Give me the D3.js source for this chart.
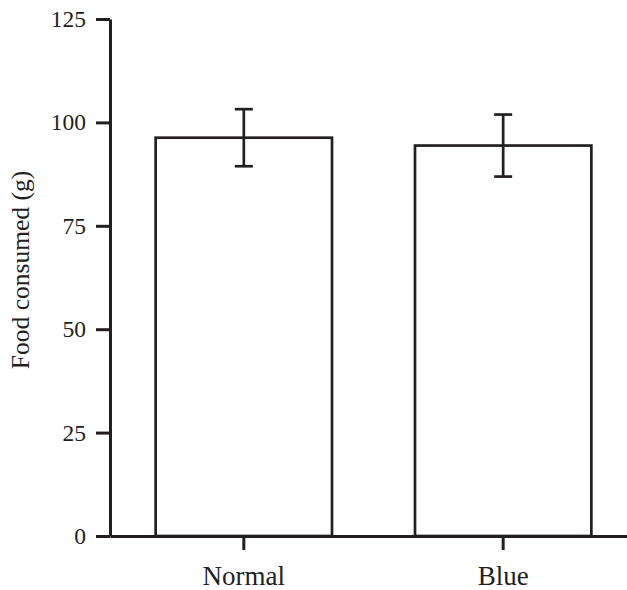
<!DOCTYPE html>
<html>
<head>
<meta charset="utf-8">
<script src="https://cdn.jsdelivr.net/npm/d3@7"></script>
<style>
	body { margin: 0; background: #fff; }
	svg text { font-family: "Liberation Serif", "Times New Roman", serif; fill: #231f20; }
</style>
</head>
<body>
<div id="main-view"></div>
<script>
var groups = ["Normal", "Blue"];
var means = [96.3, 94.4];
var errors = [6.9, 7.5];
var yTicks = [0, 25, 50, 75, 100, 125];
var yLabel = "Food consumed (g)";

var width = 627, height = 590;
var ink = "#231f20";

var svg = d3.select("#main-view")
	.append("svg")
	.attr("width", width)
	.attr("height", height);

var x = d3.scaleBand()
	.domain(groups)
	.range([110, 637])
	.paddingInner(0.32)
	.paddingOuter(0.176);

var y = d3.scaleLinear()
	.domain([0, 125])
	.range([536, 19]);

var data = groups.map(function(g, i) {
	return { key: g, mean: means[i], err: errors[i] };
});

// bars
svg.selectAll("rect.bar")
	.data(data)
	.enter()
	.append("rect")
	.attr("class", "bar")
	.attr("x", function(d) { return x(d.key) })
	.attr("y", function(d) { return y(d.mean) })
	.attr("width", x.bandwidth())
	.attr("height", function(d) { return y(0) - y(d.mean) })
	.attr("fill", "#fff")
	.attr("stroke", ink)
	.attr("stroke-width", 2.7);

// error bars
var capHalf = 9;
var err = svg.selectAll("g.err")
	.data(data)
	.enter()
	.append("g")
	.attr("class", "err")
	.attr("stroke", ink)
	.attr("stroke-width", 2.7);

err.append("line")
	.attr("x1", function(d) { return x(d.key) + x.bandwidth() / 2 })
	.attr("x2", function(d) { return x(d.key) + x.bandwidth() / 2 })
	.attr("y1", function(d) { return y(d.mean + d.err) })
	.attr("y2", function(d) { return y(d.mean - d.err) });

[1, -1].forEach(function(s) {
	err.append("line")
		.attr("x1", function(d) { return x(d.key) + x.bandwidth() / 2 - capHalf })
		.attr("x2", function(d) { return x(d.key) + x.bandwidth() / 2 + capHalf })
		.attr("y1", function(d) { return y(d.mean + s * d.err) })
		.attr("y2", function(d) { return y(d.mean + s * d.err) });
});

// axes
var yAxis = svg.append("g")
	.attr("transform", "translate(110,0)")
	.call(d3.axisLeft(y).tickValues(yTicks).tickSizeInner(14).tickSizeOuter(0).tickPadding(10));

var xAxis = svg.append("g")
	.attr("transform", "translate(0,536)")
	.call(d3.axisBottom(x).tickSizeInner(14).tickSizeOuter(0).tickPadding(16));

[yAxis, xAxis].forEach(function(a) {
	a.selectAll("path, line").attr("stroke", ink).attr("stroke-width", 3);
	a.selectAll("text").attr("fill", ink).style("font-family", "Liberation Serif");
});
yAxis.selectAll("text").style("font-size", "23.5px");
xAxis.selectAll("text").style("font-size", "27px");

svg.append("text")
	.attr("transform", "translate(29,270) rotate(-90)")
	.attr("text-anchor", "middle")
	.style("font-size", "25.5px")
	.text(yLabel);
</script>
</body>
</html>
